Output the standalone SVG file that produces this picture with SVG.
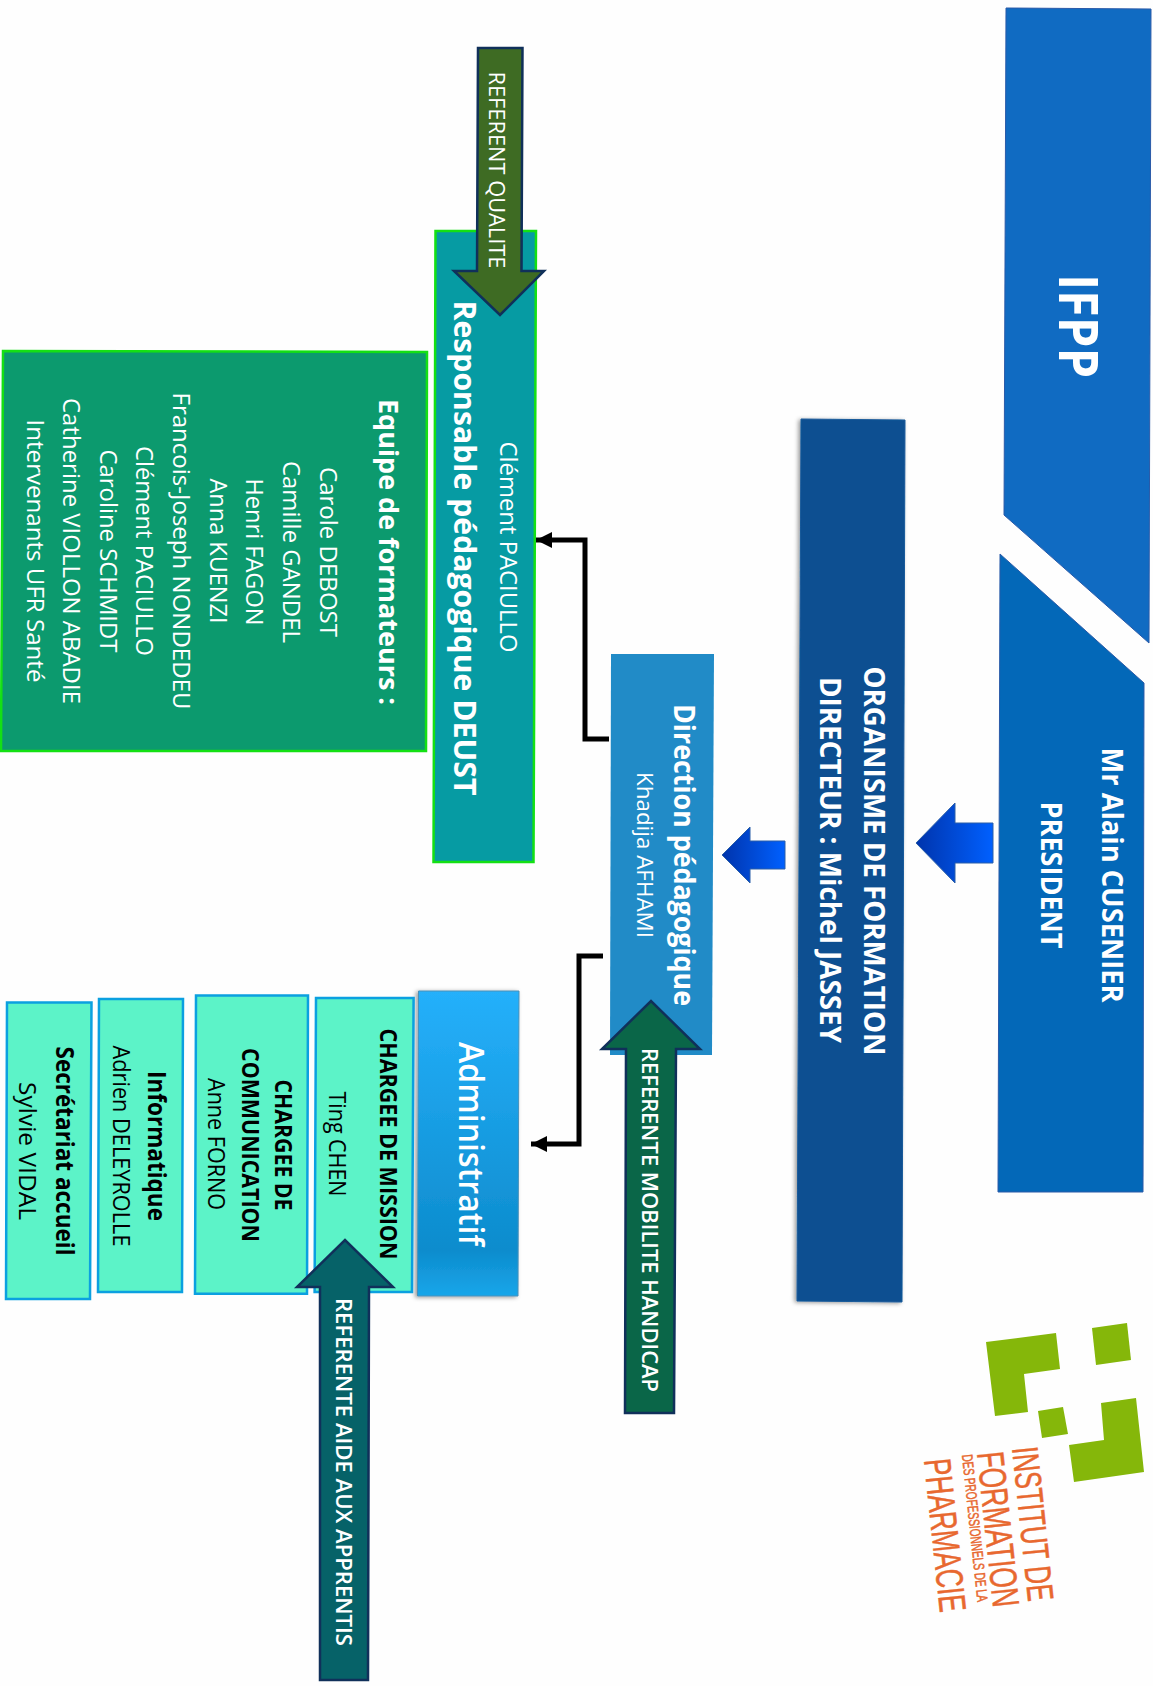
<svg xmlns="http://www.w3.org/2000/svg" width="1153" height="1686" viewBox="0 0 1153 1686">
<defs>
<style>
text{font-family:"Open Sans","Liberation Sans",sans-serif;text-anchor:middle}
.w{fill:#fff}.k{fill:#000}.b{font-weight:700}.s{font-weight:600}
.mint{fill:#5cf3c8;stroke:#0ba0e0;stroke-width:2.5}
.ref{stroke:#10305a;stroke-width:2.5}
.blk{stroke:#2a5fa8;stroke-width:1}
.conn{fill:none;stroke:#000;stroke-width:5;marker-end:url(#ah)}
.lg{fill:#85b70a}
.lt{fill:#e8682f;font-family:"Liberation Sans",sans-serif;text-anchor:start;stroke:#e8682f;stroke-width:.5}
</style>
<marker id="ah" markerUnits="userSpaceOnUse" markerWidth="18" markerHeight="18" refX="16" refY="8" orient="auto"><path d="M0,0L16,8L0,16Z" fill="#000"/></marker>
<linearGradient id="ga" x1="0" y1="0" x2="0" y2="1"><stop offset="0" stop-color="#25b0fb"/><stop offset=".85" stop-color="#0d8ccd"/><stop offset="1" stop-color="#18a6ea"/></linearGradient>
<linearGradient id="gb" x1="0" y1="0" x2="1" y2="0"><stop offset="0" stop-color="#0034ac"/><stop offset="1" stop-color="#0060ff"/></linearGradient>
<filter id="sh" x="-10%" y="-5%" width="120%" height="110%"><feDropShadow dx="-2" dy="1" stdDeviation="2" flood-color="#000" flood-opacity=".4"/></filter>
</defs>
<rect width="1153" height="1686" fill="#fefefe"/>
<g id="ifpp"><polygon points="1006,8 1151,9 1149,643 1004,515" fill="#106bc2" stroke="#2a5aa8"/><text class="w b" font-size="54" textLength="104" lengthAdjust="spacingAndGlyphs" transform="translate(1059,326) rotate(90)">IFPP</text></g>
<g id="president"><polygon points="1000,554 1144,683 1143,1192 998,1192" fill="#0368b8" stroke="#2a5aa8"/><text class="w b" font-size="28" textLength="255" lengthAdjust="spacingAndGlyphs" transform="translate(1102,875) rotate(90)">Mr Alain CUSENIER</text><text class="w b" font-size="28" textLength="147" lengthAdjust="spacingAndGlyphs" transform="translate(1041,875) rotate(90)">PRESIDENT</text></g>
<g id="organisme"><polygon points="801,419 905,420 902,1302 797,1301" fill="#0b4f91" stroke="#1a5a9a" filter="url(#sh)"/><text class="w b" font-size="28" textLength="389" lengthAdjust="spacingAndGlyphs" transform="translate(864,861) rotate(90)">ORGANISME DE FORMATION</text><text class="w b" font-size="28" textLength="366" lengthAdjust="spacingAndGlyphs" transform="translate(820,860) rotate(90)">DIRECTEUR : Michel JASSEY</text></g>
<g id="direction"><polygon points="611,654 714,654 712,1055 610,1055" fill="#218bc7"/><text class="w b" font-size="28" textLength="302" lengthAdjust="spacingAndGlyphs" transform="translate(674,855) rotate(90)">Direction pédagogique</text><text class="w" font-size="21" textLength="166" lengthAdjust="spacingAndGlyphs" transform="translate(637,855) rotate(90)">Khadija AFHAMI</text></g>
<g id="responsable"><polygon points="435.500,231 536,231 533.500,862 433.500,862" fill="#069ba3" stroke="#14e014" stroke-width="2.500"/><text class="w b" font-size="31" textLength="495" lengthAdjust="spacingAndGlyphs" transform="translate(454,548) rotate(90)">Responsable pédagogique DEUST</text><text class="w" font-size="23" textLength="211" lengthAdjust="spacingAndGlyphs" transform="translate(500,547) rotate(90)">Clément PACIULLO</text></g>
<g id="equipe"><polygon points="3,351 427,352 426,751 1,751" fill="#0c9a6e" stroke="#14e014" stroke-width="2.500"/><text class="w b" font-size="27" textLength="306" lengthAdjust="spacingAndGlyphs" transform="translate(379,552) rotate(90)">Equipe de formateurs :</text>
<g font-size="24" lengthAdjust="spacingAndGlyphs"><text class="w" textLength="170" lengthAdjust="spacingAndGlyphs" transform="translate(320,552) rotate(90)">Carole DEBOST</text><text class="w" textLength="182" lengthAdjust="spacingAndGlyphs" transform="translate(283,552) rotate(90)">Camille GANDEL</text><text class="w" textLength="147" lengthAdjust="spacingAndGlyphs" transform="translate(246,552) rotate(90)">Henri FAGON</text><text class="w" textLength="145" lengthAdjust="spacingAndGlyphs" transform="translate(210,551) rotate(90)">Anna KUENZI</text><text class="w" textLength="317" lengthAdjust="spacingAndGlyphs" transform="translate(173,551) rotate(90)">Francois-Joseph NONDEDEU</text><text class="w" textLength="210" lengthAdjust="spacingAndGlyphs" transform="translate(136,551) rotate(90)">Clément PACIULLO</text><text class="w" textLength="203" lengthAdjust="spacingAndGlyphs" transform="translate(100,551) rotate(90)">Caroline SCHMIDT</text><text class="w" textLength="306" lengthAdjust="spacingAndGlyphs" transform="translate(63,551) rotate(90)">Catherine VIOLLON ABADIE</text><text class="w" textLength="263" lengthAdjust="spacingAndGlyphs" transform="translate(27,551) rotate(90)">Intervenants UFR Santé</text></g></g>
<g id="administratif"><polygon points="418.500,991 519,991 518,1296 417.500,1296" fill="url(#ga)" stroke="#4a90b8" filter="url(#sh)"/><text class="w s" font-size="35" textLength="204" lengthAdjust="spacingAndGlyphs" transform="translate(459,1144) rotate(90)">Administratif</text></g>
<g id="mission"><polygon class="mint" points="316,998 413.600,998 412,1292 314.600,1292"/><text class="k b" font-size="23" textLength="231" lengthAdjust="spacingAndGlyphs" transform="translate(380,1144) rotate(90)">CHARGEE DE MISSION</text><text class="k" font-size="23" textLength="105" lengthAdjust="spacingAndGlyphs" transform="translate(329,1144) rotate(90)">Ting CHEN</text></g>
<g id="communication"><polygon class="mint" points="196,995.500 308,995.500 307,1293.700 195,1293.700"/><text class="k b" font-size="23" textLength="131" lengthAdjust="spacingAndGlyphs" transform="translate(275,1145) rotate(90)">CHARGEE DE</text><text class="k b" font-size="23" textLength="194" lengthAdjust="spacingAndGlyphs" transform="translate(242,1145) rotate(90)">COMMUNICATION</text><text class="k" font-size="23" textLength="132" lengthAdjust="spacingAndGlyphs" transform="translate(208,1144) rotate(90)">Anne FORNO</text></g>
<g id="informatique"><polygon class="mint" points="99,999 183,999 182,1292 98,1292"/><text class="k b" font-size="25" textLength="150" lengthAdjust="spacingAndGlyphs" transform="translate(148,1146) rotate(90)">Informatique</text><text class="k" font-size="23" textLength="201" lengthAdjust="spacingAndGlyphs" transform="translate(113,1146) rotate(90)">Adrien DELEYROLLE</text></g>
<g id="secretariat"><polygon class="mint" points="7,1002.600 91.500,1002.600 90,1299 6,1299"/><text class="k b" font-size="25" textLength="209" lengthAdjust="spacingAndGlyphs" transform="translate(56,1151) rotate(90)">Secrétariat accueil</text><text class="k" font-size="23" textLength="138" lengthAdjust="spacingAndGlyphs" transform="translate(19,1151) rotate(90)">Sylvie VIDAL</text></g>
<g id="referent-qualite"><polygon class="ref" fill="#3e6b23" points="478,48 522.500,48 521.500,271 544,271 500,315 454,271 477,271"/><text class="w" font-size="22" textLength="197" lengthAdjust="spacingAndGlyphs" transform="translate(489,170) rotate(90)">REFERENT QUALITE</text></g>
<g id="referente-handicap"><polygon class="ref" fill="#0a6648" points="625,1413 674,1413 676,1049 700,1049 651,1001 602,1049 626,1049"/><text class="w s" font-size="22" textLength="344" lengthAdjust="spacingAndGlyphs" transform="translate(642,1220) rotate(90)">REFERENTE MOBILITE HANDICAP</text></g>
<g id="referente-aide"><polygon class="ref" fill="#066268" points="320,1680 368,1680 369,1287 393,1287 345,1240 297,1287 320,1287"/><text class="w s" font-size="22" textLength="348" lengthAdjust="spacingAndGlyphs" transform="translate(336,1472) rotate(90)">REFERENTE AIDE AUX APPRENTIS</text></g>
<g id="logo">
<polygon class="lg" points="986,1342 1056,1333 1060,1369 1024,1374 1028,1412 995,1416"/>
<polygon class="lg" points="1092,1328 1127,1323 1131,1360 1096,1365"/>
<polygon class="lg" points="1038,1411 1063,1407 1068,1434 1042,1438"/>
<polygon class="lg" points="1101,1403 1136,1398 1144,1472 1074,1482 1069,1445 1104,1440"/>
<text class="lt" font-size="37" transform="translate(1012,1448) rotate(84)" textLength="155" lengthAdjust="spacingAndGlyphs">INSTITUT DE</text>
<text class="lt" font-size="38" transform="translate(977,1453) rotate(84)" textLength="156" lengthAdjust="spacingAndGlyphs">FORMATION</text>
<text class="lt" font-size="15" transform="translate(962,1455) rotate(84)" textLength="148" lengthAdjust="spacingAndGlyphs">DES PROFESSIONNELS DE LA</text>
<text class="lt" font-size="38" transform="translate(924,1460) rotate(84)" textLength="154" lengthAdjust="spacingAndGlyphs">PHARMACIE</text>
</g>
<g id="connectors">
<polygon class="blk" fill="url(#gb)" points="916,843 955,803 955,823 993,823 993,863 955,863 955,883"/>
<polygon class="blk" fill="url(#gb)" points="722,855 750,827 750,841 785,841 785,869 750,869 750,883"/>
<path class="conn" d="M609,739H585V540H536"/>
<path class="conn" d="M603,956H579V1144H531"/>
</g>
</svg>
